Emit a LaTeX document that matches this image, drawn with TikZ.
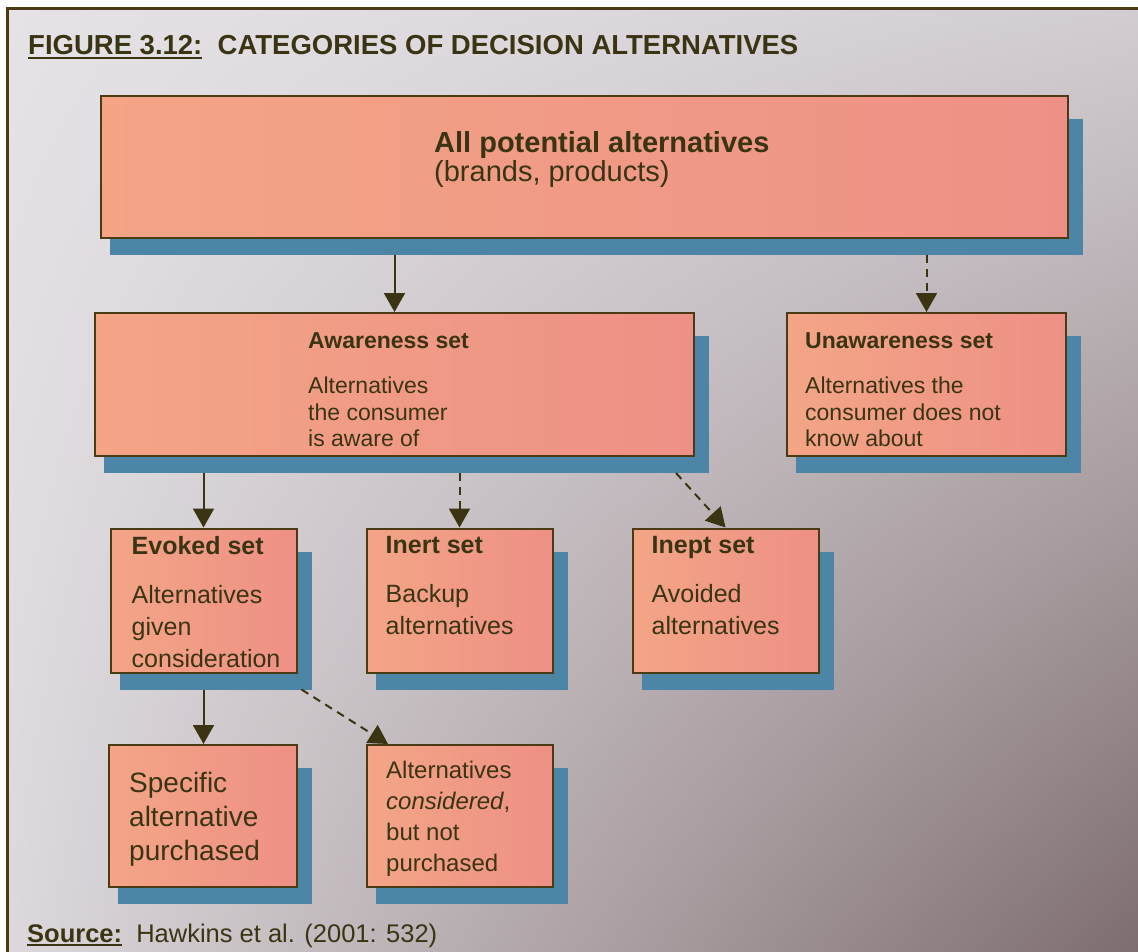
\documentclass[tikz,border=0pt]{standalone}
\usepackage{fontspec}
\setmainfont{Liberation Sans}
\usetikzlibrary{arrows.meta, positioning, backgrounds, calc, shadings}

\definecolor{ink}{HTML}{3B3413}
\definecolor{boxline}{HTML}{4A3B14}
\definecolor{boxleft}{HTML}{F3A586}
\definecolor{boxright}{HTML}{EE9086}
\definecolor{shadowblue}{HTML}{4C85A5}
\definecolor{bgtl}{HTML}{E6E3E7}
\definecolor{bgtr}{HTML}{D2CDD2}
\definecolor{bgbl}{HTML}{DCD8DC}
\definecolor{bgbr}{HTML}{7E6D6F}

\newcommand{\figul}[1]{\setbox0\hbox{#1}\rlap{\rule[-4pt]{\wd0}{2pt}}\box0}

\begin{document}
\begin{tikzpicture}[
x=1pt, y=-1pt,
setbox/.style={
draw=boxline,
line width=2pt,
left color=boxleft,
right color=boxright,
inner sep=0pt
},
smallbox/.style={setbox, minimum width=186pt, minimum height=144pt},
boxtext/.style={text=ink, align=left, inner sep=0pt, anchor=north west},
arrow/.style={-{Triangle[width=21pt,length=19pt]}, line width=2pt, draw=ink},
dasharrow/.style={arrow, dash pattern=on 8pt off 6pt}
]

\useasboundingbox (0,0) rectangle (1138,952);

% ------------------------
% Background and frame
% ------------------------
\begin{scope}[on background layer]
\shade[upper left=bgtl, upper right=bgtr, lower left=bgbl, lower right=bgbr]
  (7,9) rectangle (1138,952);
\draw[line width=3pt, boxline] (7,952) -- (7,9) -- (1138,9);
\end{scope}

\node[anchor=base west, text=ink, inner sep=0pt,
  font=\fontsize{27.5}{30}\selectfont\bfseries] (title) at (28,55)
{\figul{FIGURE 3.12:}\ \ CATEGORIES OF DECISION ALTERNATIVES};

% ------------------------
% All alternatives (top)
% ------------------------
\node[setbox, minimum width=967pt, minimum height=142pt] (top) at (584.5,167) {};
\node[boxtext, font=\fontsize{29}{29.5}\selectfont] (toptxt)
  at ([shift={(334pt,-36pt)}]top.north west)
{\textbf{All potential alternatives}\\(brands, products)};

% ------------------------
% Awareness / unawareness
% ------------------------
\node[setbox, minimum width=599pt, minimum height=143pt] (aware) at (394.5,384.5) {};
\node[setbox, minimum width=279pt, minimum height=143pt, right=91pt of aware] (unaware) {};

\node[boxtext, font=\fontsize{23}{26.5}\selectfont] (awaretxt)
  at ([shift={(214pt,-20pt)}]aware.north west)
{\textbf{Awareness set}\\[19pt]Alternatives\\the consumer\\is aware of};

\node[boxtext, font=\fontsize{23}{26.5}\selectfont] (unawaretxt)
  at ([shift={(19pt,-20pt)}]unaware.north west)
{\textbf{Unawareness set}\\[19pt]Alternatives the\\consumer does not\\know about};

% ------------------------
% Evoked, inert, inept sets
% ------------------------
\node[smallbox] (evoked) at (203.5,600.5) {};
\node[smallbox, right=68pt of evoked] (inert) {};
\node[smallbox, right=78pt of inert] (inept) {};

\node[boxtext, font=\fontsize{25}{32}\selectfont] (evokedtxt)
  at ([shift={(22pt,-9pt)}]evoked.north west)
{\textbf{Evoked set}\\[17pt]Alternatives\\given\\consideration};

\node[boxtext, font=\fontsize{25}{32}\selectfont] (inerttxt)
  at ([shift={(20pt,-9pt)}]inert.north west)
{\textbf{Inert set}\\[17pt]Backup\\alternatives};

\node[boxtext, font=\fontsize{25}{32}\selectfont] (inepttxt)
  at ([shift={(20pt,-9pt)}]inept.north west)
{\textbf{Inept set}\\[17pt]Avoided\\alternatives};

% ------------------------
% Outcome of the evoked set (bottom)
% ------------------------
\node[setbox, minimum width=188pt, minimum height=142pt] (specific) at (203,816) {};
\node[setbox, minimum width=186pt, minimum height=142pt, right=68pt of specific] (considered) {};

\node[boxtext, font=\fontsize{28}{34}\selectfont] (specifictxt)
  at ([shift={(21pt,-28pt)}]specific.north west)
{Specific\\alternative\\purchased};

\node[boxtext, font=\fontsize{24}{31}\selectfont] (consideredtxt)
  at ([shift={(20pt,-17pt)}]considered.north west)
{Alternatives\\\textit{considered},\\but not\\purchased};

\node[anchor=base west, text=ink, inner sep=0pt,
  font=\fontsize{25.5}{28}\selectfont] (source) at (27,942)
{\figul{\textbf{Source:}}\ \ Hawkins et al. (2001: 532)};

% shadows behind the boxes
\begin{scope}[on background layer]
\foreach \boxname in {top,aware,unaware,evoked,inert,inept,specific,considered}
  \fill[shadowblue] ([shift={(10pt,-16pt)}]\boxname.south west)
    rectangle ([shift={(14pt,-24pt)}]\boxname.north east);
\end{scope}

% ------------------------
% Arrows
% ------------------------
\draw[arrow] ($(top.south -| aware.north)+(0,16)$) -- (aware.north);
\draw[dasharrow] ($(top.south -| unaware.north)+(0,16)$) -- (unaware.north);

\draw[arrow] ($(aware.south -| evoked.north)+(0,16)$) -- (evoked.north);
\draw[dasharrow] ($(aware.south -| inert.north)+(0,16)$) -- (inert.north);
\draw[dasharrow] ($(aware.south east)+(-19,16)$) -- (inept.north);

\draw[arrow] ($(evoked.south)+(0,16)$) -- (evoked.south |- specific.north);
\draw[dasharrow] ($(evoked.south east)+(4,16)$) -- ($(considered.north west)+(22,0)$);

\end{tikzpicture}
\end{document}
